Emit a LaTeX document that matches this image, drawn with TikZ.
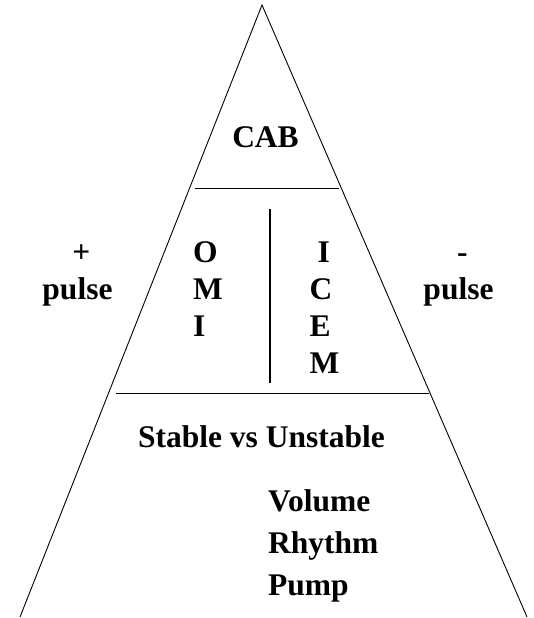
\documentclass[tikz,border=0pt]{standalone}
\usepackage{fontspec}
\setmainfont{Liberation Serif}
\usetikzlibrary{positioning}
\tikzset{
  lbl/.style={font=\fontsize{31.5}{37}\selectfont\bfseries,inner sep=0pt},
  lst/.style={font=\fontsize{31.5}{41.7}\selectfont\bfseries,inner sep=0pt,align=left},
  edge/.style={line width=0.9pt}
}

\begin{document}
\begin{tikzpicture}[x=1pt,y=-1pt]
  \useasboundingbox (0,0) rectangle (533,618);
  % triangle and its tiers
  \coordinate (apex) at (262,5);
  \coordinate (bl) at (20,617);
  \coordinate (br) at (527,617);
  \draw[edge] (bl) -- (apex) -- (br);
  \draw[edge] (195,188) -- (339,188);
  \draw[edge] (116,393) -- (429,393);
  \draw[line width=2pt] (270,209) -- (270,383);
  % labels (base = last line)
  \node[lbl,anchor=base] (cab) at (265.5,147) {CAB};
  \node[lbl,align=center,anchor=base] (pos) at (77.5,299) {\ +\\pulse};
  \node[lbl,align=center,anchor=base] (neg) at (458.5,299) {\ -\\pulse};
  \node[lbl,align=left,anchor=base west] (omi) at (193,336) {O\\M\\I};
  \node[lbl,align=left,anchor=base west] (icem) at (309.5,373) {\ I\\C\\E\\M};
  \node[lbl,anchor=base] (stab) at (261.5,447) {Stable vs Unstable};
  \node[lst,anchor=base west] (vrp) at (268,595) {Volume\\Rhythm\\Pump};
\end{tikzpicture}
\end{document}
